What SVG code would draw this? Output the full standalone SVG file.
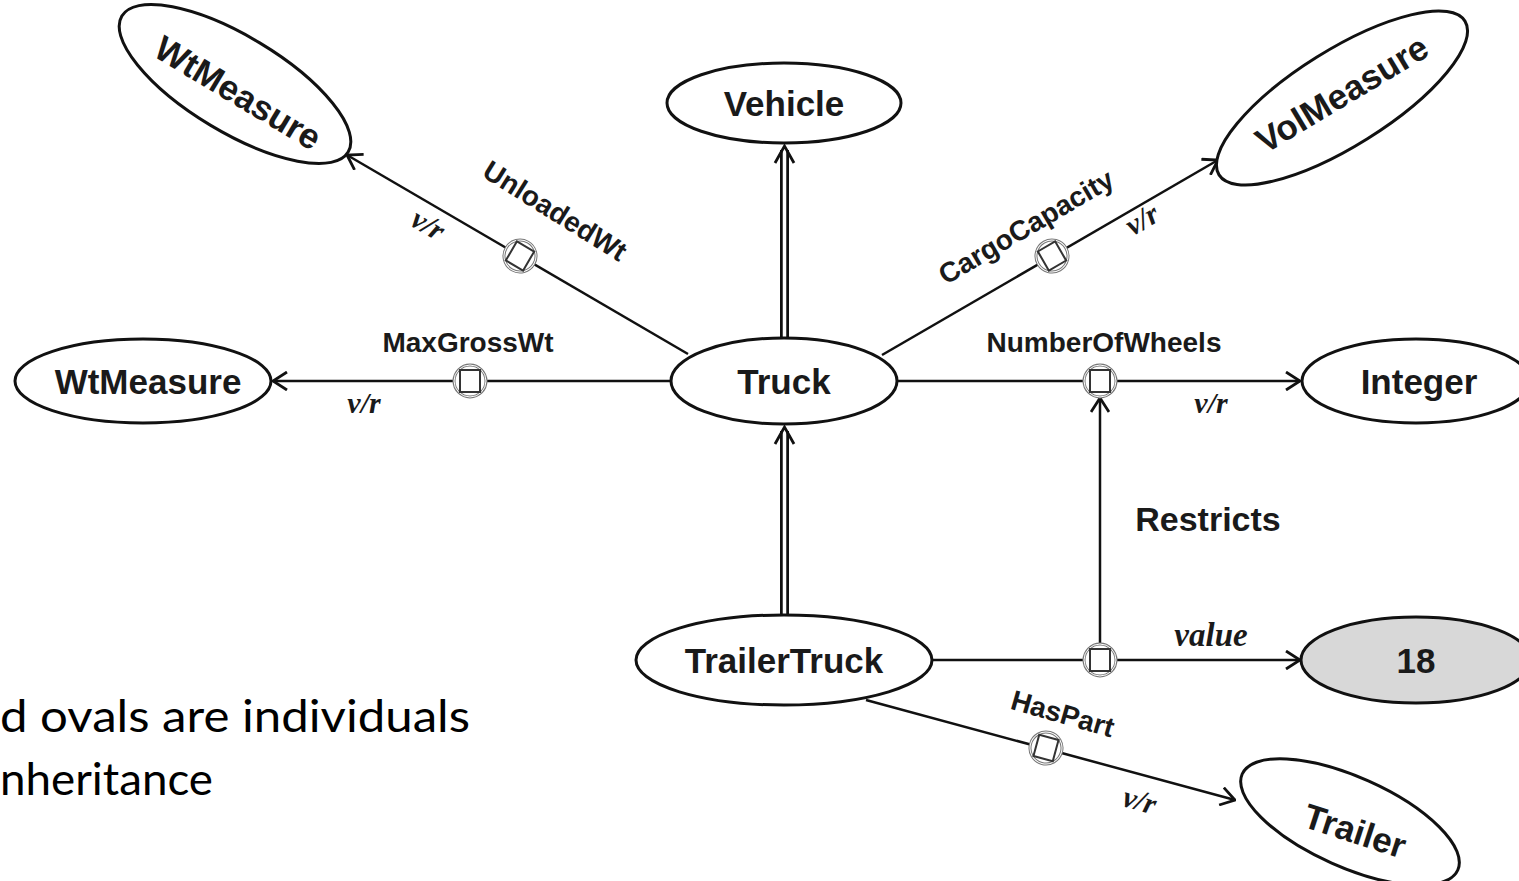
<svg xmlns="http://www.w3.org/2000/svg" width="1519" height="881" viewBox="0 0 1519 881">
  <style>
    .node { fill: #fff; stroke: #111; stroke-width: 3; }
    .indiv { fill: #d8d8d8; stroke: #111; stroke-width: 3; }
    .nlabel { font-family: "Liberation Sans", Arial, sans-serif; font-weight: bold; font-size: 35px; fill: #1a1a1a; text-anchor: middle; }
    .elabel { font-family: "Liberation Sans", Arial, sans-serif; font-weight: bold; font-size: 28px; fill: #1a1a1a; text-anchor: middle; }
    .vr { font-family: "Liberation Serif", "Times New Roman", serif; font-style: italic; font-weight: bold; font-size: 30px; fill: #1a1a1a; text-anchor: middle; }
    .edge { stroke: #111; stroke-width: 2.5; fill: none; }
    .note { font-family: Lato, "Open Sans", sans-serif; font-size: 44px; fill: #000; }
  </style>
  <defs>
    <marker id="arrow" viewBox="0 0 16 20" refX="15" refY="10" markerWidth="16" markerHeight="20" markerUnits="userSpaceOnUse" orient="auto">
      <path d="M1,1 L15,10 L1,19" fill="none" stroke="#111" stroke-width="2.8"/>
    </marker>
    <!-- property node: ringed square placed on a connector -->
    <g id="prop">
      <circle r="16" fill="#fff" stroke="#777" stroke-width="3"/>
      <circle r="16" fill="none" stroke="#fff" stroke-width="1"/>
      <rect x="-10" y="-11" width="20" height="22" fill="#fff" stroke="#333" stroke-width="2"/>
    </g>
  </defs>

  <!-- connectors -->
  <g id="connectors">
    <!-- subclass links (double lines) -->
    <line x1="784.5" y1="338" x2="784.5" y2="150" stroke="#111" stroke-width="9"/>
    <line x1="784.5" y1="338" x2="784.5" y2="150" stroke="#fff" stroke-width="3.5"/>
    <path d="M775,163 L784.5,146 L794,163" fill="none" stroke="#111" stroke-width="2.8"/>
    <line x1="784.5" y1="616" x2="784.5" y2="431" stroke="#111" stroke-width="9"/>
    <line x1="784.5" y1="616" x2="784.5" y2="431" stroke="#fff" stroke-width="3.5"/>
    <path d="M775,444 L784.5,427 L794,444" fill="none" stroke="#111" stroke-width="2.8"/>

    <!-- property links -->
    <line class="edge" x1="688" y1="354" x2="347" y2="155" marker-end="url(#arrow)"/>
    <line class="edge" x1="670" y1="381" x2="273" y2="381" marker-end="url(#arrow)"/>
    <line class="edge" x1="882" y1="355" x2="1218" y2="160" marker-end="url(#arrow)"/>
    <line class="edge" x1="898" y1="381" x2="1300" y2="381" marker-end="url(#arrow)"/>
    <line class="edge" x1="1100" y1="645" x2="1100" y2="398" marker-end="url(#arrow)"/>
    <line class="edge" x1="932" y1="660" x2="1300" y2="660" marker-end="url(#arrow)"/>
    <line class="edge" x1="866" y1="700" x2="1235" y2="800" marker-end="url(#arrow)"/>

    <use href="#prop" transform="translate(520,256) rotate(30.3)"/>
    <use href="#prop" transform="translate(470,381)"/>
    <use href="#prop" transform="translate(1052,256) rotate(-30.1)"/>
    <use href="#prop" transform="translate(1100,381)"/>
    <use href="#prop" transform="translate(1100,660)"/>
    <use href="#prop" transform="translate(1046,748) rotate(15.2)"/>

    <text class="elabel" transform="translate(550,219) rotate(32)">UnloadedWt</text>
    <text class="vr" transform="translate(423,233) rotate(31)">v/r</text>
    <text class="elabel" x="468" y="352">MaxGrossWt</text>
    <text class="vr" x="364" y="413">v/r</text>
    <text class="elabel" transform="translate(1031,235) rotate(-30.5)">CargoCapacity</text>
    <text class="vr" transform="translate(1147,228) rotate(-30)">v/r</text>
    <text class="elabel" x="1104" y="352">NumberOfWheels</text>
    <text class="vr" x="1211" y="413">v/r</text>
    <text class="nlabel" x="1208" y="531" style="font-size:34px">Restricts</text>
    <text class="vr" x="1211" y="646" style="font-size:33px">value</text>
    <text class="elabel" transform="translate(1060,723) rotate(16)">HasPart</text>
    <text class="vr" transform="translate(1137,810) rotate(16)">v/r</text>
  </g>

  <!-- nodes -->
  <g id="vehicle">
    <ellipse class="node" cx="784" cy="103" rx="117" ry="40"/>
    <text class="nlabel" x="784" y="116">Vehicle</text>
  </g>
  <g id="truck">
    <ellipse class="node" cx="784" cy="381" rx="113" ry="43"/>
    <text class="nlabel" x="784" y="394">Truck</text>
  </g>
  <g id="wtmeasure-upper">
    <ellipse class="node" cx="0" cy="0" rx="132" ry="48" transform="translate(235,84) rotate(31)"/>
    <text class="nlabel" transform="translate(238,93) rotate(31) translate(0,12)">WtMeasure</text>
  </g>
  <g id="wtmeasure-left">
    <ellipse class="node" cx="143" cy="381" rx="128" ry="42"/>
    <text class="nlabel" x="148" y="394">WtMeasure</text>
  </g>
  <g id="volmeasure">
    <ellipse class="node" cx="0" cy="0" rx="145" ry="48" transform="translate(1342,98) rotate(-32)"/>
    <text class="nlabel" transform="translate(1342,94) rotate(-31) translate(0,12)">VolMeasure</text>
  </g>
  <g id="integer">
    <ellipse class="node" cx="1416" cy="381" rx="114" ry="42"/>
    <text class="nlabel" x="1419" y="394">Integer</text>
  </g>
  <g id="trailertruck">
    <ellipse class="node" cx="784" cy="660" rx="148" ry="45"/>
    <text class="nlabel" x="784" y="673">TrailerTruck</text>
  </g>
  <g id="value-18">
    <ellipse class="indiv" cx="1416" cy="660" rx="115" ry="43"/>
    <text class="nlabel" x="1416" y="673">18</text>
  </g>
  <g id="trailer">
    <ellipse class="node" cx="0" cy="0" rx="118" ry="45" transform="translate(1350,822) rotate(24)"/>
    <text class="nlabel" transform="translate(1355,831) rotate(18) translate(0,12)">Trailer</text>
  </g>

  <!-- caption text -->
  <text class="note" x="0" y="732" textLength="470" lengthAdjust="spacingAndGlyphs">d ovals are individuals</text>
  <text class="note" x="0" y="795" textLength="213" lengthAdjust="spacingAndGlyphs">nheritance</text>
</svg>
